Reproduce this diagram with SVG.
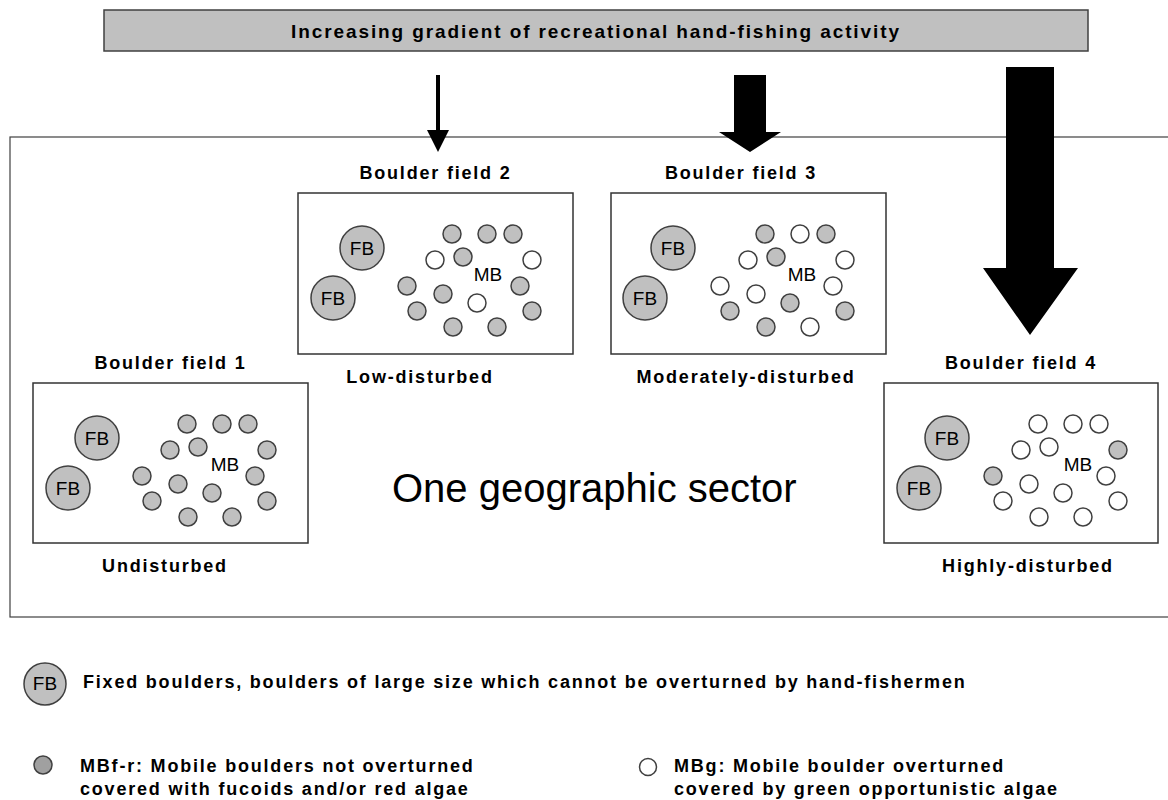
<svg xmlns="http://www.w3.org/2000/svg" width="1168" height="800" viewBox="0 0 1168 800">
<style>
  .lbl { font-family: "Liberation Sans", Arial, sans-serif; font-weight: bold; font-size: 18px; letter-spacing: 1.8px; fill: #000; }
  .ttl { font-family: "Liberation Sans", Arial, sans-serif; font-weight: bold; font-size: 19px; letter-spacing: 1.9px; fill: #000; }
  .big { font-family: "Liberation Sans", Arial, sans-serif; font-size: 40px; fill: #000; }
  .cal { font-family: "Liberation Sans", Arial, sans-serif; font-size: 19px; fill: #000; }
  .box { fill: #fff; stroke: #333; stroke-width: 1.5; }
  .fb { fill: #c0c0c0; stroke: #404040; stroke-width: 1.5; }
  .g { fill: #c0c0c0; stroke: #404040; stroke-width: 1.5; }
  .w { fill: #fff; stroke: #404040; stroke-width: 1.5; }
  .arr { fill: #000; }
</style>

<g id="sector">
  <rect x="10" y="137" width="1170" height="480" fill="#fff" stroke="#404040" stroke-width="1.2"/>
  <text class="big" x="392" y="502">One geographic sector</text>
</g>

<g id="banner">
  <rect x="104" y="10" width="984" height="41" fill="#c0c0c0" stroke="#404040" stroke-width="1.5"/>
  <text class="ttl" x="596" y="38" text-anchor="middle">Increasing gradient of recreational hand-fishing activity</text>
</g>

<g id="connectors">
  <polygon class="arr" points="436,75 440,75 440,130 449,130 438,152 427,130 436,130"/>
  <polygon class="arr" points="734,75 766,75 766,132 781,132 750,152 719,132 734,132"/>
  <polygon class="arr" points="1006,67 1054,67 1054,268 1078,268 1030,335 983,268 1006,268"/>
</g>

<g id="field1" transform="translate(33,383)">
  <text class="lbl" x="137.5" y="-14" text-anchor="middle">Boulder field 1</text>
  <rect class="box" x="0" y="0" width="275" height="160"/>
  <circle class="fb" cx="64" cy="55" r="22"/><text class="cal" x="64" cy="0" y="62" text-anchor="middle">FB</text>
  <circle class="fb" cx="35" cy="105" r="22"/><text class="cal" x="35" y="112" text-anchor="middle">FB</text>
  <circle class="g" cx="154" cy="41" r="9"/>
  <circle class="g" cx="189" cy="41" r="9"/>
  <circle class="g" cx="215" cy="41" r="9"/>
  <circle class="g" cx="137" cy="67" r="9"/>
  <circle class="g" cx="165" cy="64" r="9"/>
  <circle class="g" cx="234" cy="67" r="9"/>
  <circle class="g" cx="109" cy="93" r="9"/>
  <circle class="g" cx="145" cy="101" r="9"/>
  <circle class="g" cx="222" cy="93" r="9"/>
  <circle class="g" cx="179" cy="110" r="9"/>
  <circle class="g" cx="119" cy="118" r="9"/>
  <circle class="g" cx="234" cy="118" r="9"/>
  <circle class="g" cx="155" cy="134" r="9"/>
  <circle class="g" cx="199" cy="134" r="9"/>
  <text class="cal" x="192" y="88" text-anchor="middle">MB</text>
  <text class="lbl" x="132" y="189" text-anchor="middle">Undisturbed</text>
</g>

<g id="field2" transform="translate(298,193)">
  <text class="lbl" x="137.5" y="-14" text-anchor="middle">Boulder field 2</text>
  <rect class="box" x="0" y="0" width="275" height="161"/>
  <circle class="fb" cx="64" cy="55" r="22"/><text class="cal" x="64" y="62" text-anchor="middle">FB</text>
  <circle class="fb" cx="35" cy="105" r="22"/><text class="cal" x="35" y="112" text-anchor="middle">FB</text>
  <circle class="g" cx="154" cy="41" r="9"/>
  <circle class="g" cx="189" cy="41" r="9"/>
  <circle class="g" cx="215" cy="41" r="9"/>
  <circle class="w" cx="137" cy="67" r="9"/>
  <circle class="g" cx="165" cy="64" r="9"/>
  <circle class="w" cx="234" cy="67" r="9"/>
  <circle class="g" cx="109" cy="93" r="9"/>
  <circle class="g" cx="145" cy="101" r="9"/>
  <circle class="g" cx="222" cy="93" r="9"/>
  <circle class="w" cx="179" cy="110" r="9"/>
  <circle class="g" cx="119" cy="118" r="9"/>
  <circle class="g" cx="234" cy="118" r="9"/>
  <circle class="g" cx="155" cy="134" r="9"/>
  <circle class="g" cx="199" cy="134" r="9"/>
  <text class="cal" x="190" y="88" text-anchor="middle">MB</text>
  <text class="lbl" x="122" y="190" text-anchor="middle">Low-disturbed</text>
</g>

<g id="field3" transform="translate(611,193)">
  <text class="lbl" x="130" y="-14" text-anchor="middle">Boulder field 3</text>
  <rect class="box" x="0" y="0" width="275" height="161"/>
  <circle class="fb" cx="62" cy="55" r="22"/><text class="cal" x="62" y="62" text-anchor="middle">FB</text>
  <circle class="fb" cx="34" cy="105" r="22"/><text class="cal" x="34" y="112" text-anchor="middle">FB</text>
  <circle class="g" cx="154" cy="41" r="9"/>
  <circle class="w" cx="189" cy="41" r="9"/>
  <circle class="g" cx="215" cy="41" r="9"/>
  <circle class="w" cx="137" cy="67" r="9"/>
  <circle class="g" cx="165" cy="64" r="9"/>
  <circle class="w" cx="234" cy="67" r="9"/>
  <circle class="w" cx="109" cy="93" r="9"/>
  <circle class="w" cx="145" cy="101" r="9"/>
  <circle class="w" cx="222" cy="93" r="9"/>
  <circle class="g" cx="179" cy="110" r="9"/>
  <circle class="g" cx="119" cy="118" r="9"/>
  <circle class="g" cx="234" cy="118" r="9"/>
  <circle class="g" cx="155" cy="134" r="9"/>
  <circle class="w" cx="199" cy="134" r="9"/>
  <text class="cal" x="191" y="88" text-anchor="middle">MB</text>
  <text class="lbl" x="135" y="190" text-anchor="middle">Moderately-disturbed</text>
</g>

<g id="field4" transform="translate(884,383)">
  <text class="lbl" x="137" y="-14" text-anchor="middle">Boulder field 4</text>
  <rect class="box" x="0" y="0" width="274" height="160"/>
  <circle class="fb" cx="63" cy="55" r="22"/><text class="cal" x="63" y="62" text-anchor="middle">FB</text>
  <circle class="fb" cx="35" cy="105" r="22"/><text class="cal" x="35" y="112" text-anchor="middle">FB</text>
  <circle class="w" cx="154" cy="41" r="9"/>
  <circle class="w" cx="189" cy="41" r="9"/>
  <circle class="w" cx="215" cy="41" r="9"/>
  <circle class="w" cx="137" cy="67" r="9"/>
  <circle class="w" cx="165" cy="64" r="9"/>
  <circle class="g" cx="234" cy="67" r="9"/>
  <circle class="g" cx="109" cy="93" r="9"/>
  <circle class="w" cx="145" cy="101" r="9"/>
  <circle class="w" cx="222" cy="93" r="9"/>
  <circle class="w" cx="179" cy="110" r="9"/>
  <circle class="w" cx="119" cy="118" r="9"/>
  <circle class="w" cx="234" cy="118" r="9"/>
  <circle class="w" cx="155" cy="134" r="9"/>
  <circle class="w" cx="199" cy="134" r="9"/>
  <text class="cal" x="194" y="88" text-anchor="middle">MB</text>
  <text class="lbl" x="144" y="189" text-anchor="middle">Highly-disturbed</text>
</g>

<g id="legend-fb">
  <circle class="fb" cx="45" cy="684" r="21"/>
  <text class="cal" x="45" y="690" text-anchor="middle" font-size="18">FB</text>
  <text class="lbl" x="83" y="688">Fixed boulders, boulders of large size which cannot be overturned by hand-fishermen</text>
</g>

<g id="legend-mbfr">
  <circle cx="43" cy="765" r="9" fill="#a0a0a0" stroke="#404040" stroke-width="1.5"/>
  <text class="lbl" x="80" y="772">MBf-r: Mobile boulders not overturned</text>
  <text class="lbl" x="80" y="795">covered with fucoids and/or red algae</text>
</g>

<g id="legend-mbg">
  <circle class="w" cx="648" cy="767" r="8.5"/>
  <text class="lbl" x="674" y="772">MBg: Mobile boulder overturned</text>
  <text class="lbl" x="674" y="795">covered by green opportunistic algae</text>
</g>
</svg>
